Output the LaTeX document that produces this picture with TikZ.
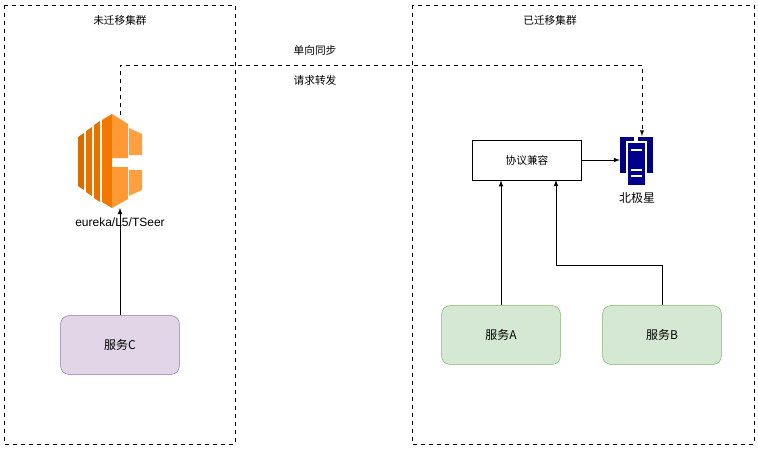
\documentclass[tikz,border=0pt]{standalone}
\usepackage{fontspec}
\setmainfont{Liberation Sans}
\newfontfamily\cjk{Noto Sans CJK SC}
\definecolor{gfill}{HTML}{D5E8D4}\definecolor{gline}{HTML}{82B366}
\definecolor{pfill}{HTML}{E1D5E7}\definecolor{pline}{HTML}{9673A6}
\begin{document}
\begin{tikzpicture}[x=0.75pt,y=-0.75pt,
  cluster/.style={draw,dashed,line width=0.5pt},
  svc/.style={draw,rounded corners=6pt,minimum width=89pt,minimum height=44pt,font=\cjk\small},
  arr/.style={-latex,line width=0.6pt},
  lbl/.style={font=\cjk\fontsize{8}{9}\selectfont}]
\useasboundingbox (0,0) rectangle (758,451);
\fill[white] (0,0) rectangle (758,451);
\draw[cluster] (4,5) rectangle (235,444);
\draw[cluster] (412,5) rectangle (754,444);
\node[lbl] (t1) at (120,20) {未迁移集群};
\node[lbl] (t2) at (550,20) {已迁移集群};
% eureka icon
\begin{scope}
\fill[orange!85!black] (78,137) -- (84,133) -- (84,190) -- (78,186) -- cycle;
\fill[orange!90!black] (86,131) -- (92,127) -- (92,196) -- (86,192) -- cycle;
\fill[orange!90!black] (94,125) -- (100,121) -- (100,202) -- (94,198) -- cycle;
\fill[orange!95!black] (102,120) -- (112,114) -- (112,208) -- (102,202) -- cycle;
\fill[orange!80] (112,114) -- (128,124) -- (128,158) -- (112,158) -- cycle;
\fill[orange!80] (112,167) -- (128,167) -- (128,199) -- (112,208) -- cycle;
\fill[orange!75] (129,128) -- (142,134) -- (142,155) -- (129,155) -- cycle;
\fill[orange!75] (129,170) -- (142,170) -- (142,190) -- (129,196) -- cycle;
\end{scope}
\coordinate (eutop) at (120,115);
\coordinate (eubot) at (120,208);
\node[font=\small] (eulbl) at (120,222) {eureka/L5/TSeer};
% server icon
\fill[blue!50!black] (620,137) rectangle (634,173);
\fill[blue!50!black] (638,137) rectangle (653,173);
\fill[blue!55!black,draw=white,line width=0.8pt] (627,142) rectangle (646,186);
\foreach \yy in {150,170,176} \draw[white,line width=0.8pt] (631,\yy) -- (642,\yy);
\coordinate (startop) at (642,136);
\coordinate (starleft) at (620,160);
\node[font=\cjk\small] (starlbl) at (637,198) {北极星};
% boxes
\node[draw,minimum width=82pt,minimum height=30pt,lbl] (proto) at (527,160) {协议兼容};
\node[svc,fill=pfill,draw=pline] (c) at (120,345) {服务C};
\node[svc,fill=gfill,draw=gline] (a) at (501,335) {服务A};
\node[svc,fill=gfill,draw=gline] (b) at (662,335) {服务B};
% connectors
\draw[arr,dashed,line width=0.5pt] (eutop) -- (120,65) -- (642,65) -- (startop);
\node[lbl] (sync) at (315,50) {单向同步};
\node[lbl] (fwd) at (315,80) {请求转发};
\draw[arr] (c.north) -- (eubot);
\draw[arr] (proto.east) -- (starleft);
\draw[arr] (a.north) -- (a.north |- proto.south);
\draw[arr] (b.north) -- (662,265) -- (556,265) -- (556,180);
\end{tikzpicture}
\end{document}
